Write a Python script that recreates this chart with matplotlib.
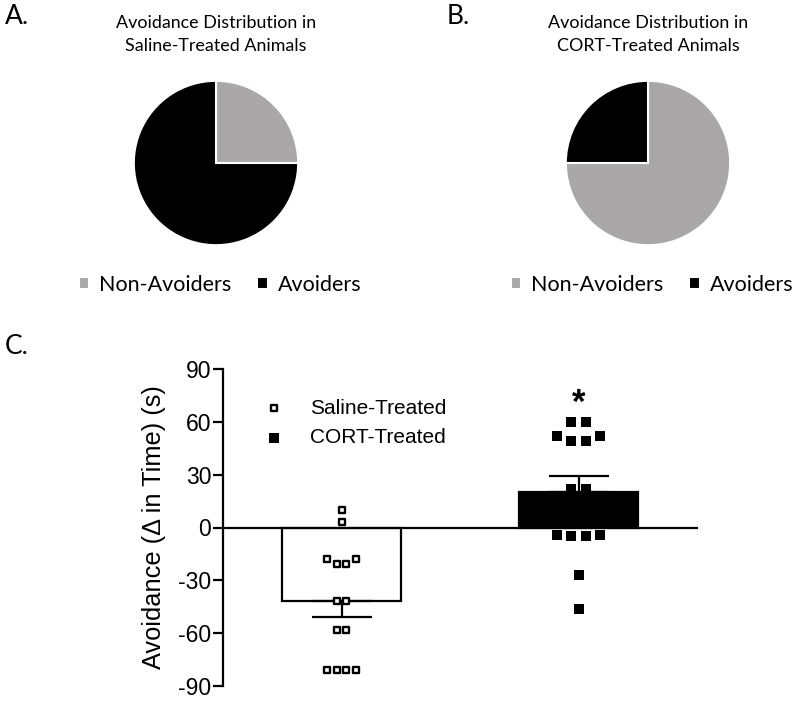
import matplotlib
matplotlib.use('Agg')
import matplotlib.pyplot as plt

plt.rcParams['font.family'] = ['Liberation Sans', 'DejaVu Sans']

# ---------------- data ----------------
pie_labels = ['Non-Avoiders', 'Avoiders']
saline_pie = [25, 75]
cort_pie = [75, 25]
pie_titles = ['Avoidance Distribution in\nSaline-Treated Animals',
              'Avoidance Distribution in\nCORT-Treated Animals']

groups = ['Saline-Treated', 'CORT-Treated']
bar_means = [-42, 20]
bar_sem = [8.6, 9.0]
saline_points = [10, 3, -18, -20.5, -20.5, -18, -41.5, -41.5, -58, -58, -81, -81, -81, -81]
cort_points = [60, 60, 52, 49, 49, 52, 22, 22, -4, -5, -5, -4, -27, -46]
yticks = [-90, -60, -30, 0, 30, 60, 90]
ylabel = 'Avoidance (\u0394 in Time) (s)'

# ---------------- style ----------------
GREY = '#a9a7a7'
pie_colors = [GREY, 'black']
W, H = 800, 703
fig = plt.figure(figsize=(8, 7.03), dpi=100)


def fx(px):
    return px / W


def fy(py):
    return 1 - py / H


CAL = ['Lato', 'DejaVu Sans']


def draw_pie(cx, cy, r, values, title, letter, letter_x, legend_cx):
    ax = fig.add_axes([fx(cx - r), fy(cy + r), 2 * r / W, 2 * r / H])
    wedges, _ = ax.pie(values, colors=pie_colors, startangle=90, counterclock=False,
                       wedgeprops=dict(edgecolor='white', linewidth=1.5))
    ax.set_xlim(-1.01, 1.01)
    ax.set_ylim(-1.01, 1.01)
    fig.text(fx(cx), fy(34.5), title, ha='center', va='center', fontsize=12.9,
             family=CAL, linespacing=1.5)
    fig.text(fx(letter_x), fy(17), letter, ha='left', va='center', fontsize=19, family=CAL)
    fig.legend(wedges, pie_labels, loc='center', bbox_to_anchor=(fx(legend_cx), fy(285)),
               ncol=2, frameon=False, prop=dict(family=CAL, size=15.5),
               handlelength=0.5, handleheight=0.5, handletextpad=0.45,
               columnspacing=1.2, borderpad=0)


draw_pie(216, 163, 83, saline_pie, pie_titles[0], 'A.', 5, 220)
draw_pie(648, 163, 83, cort_pie, pie_titles[1], 'B.', 447, 652)

fig.text(fx(5), fy(347), 'C.', ha='left', va='center', fontsize=19, family=CAL)

# ---------------- panel C ----------------
ax = fig.add_axes([fx(223), fy(686), 474 / W, 317 / H])
xpos = [1, 2]


def swarm_offsets(vals, spacing, tol=6):
    offs = []
    i = 0
    n = len(vals)
    while i < n:
        j = i
        while j + 1 < n and abs(vals[j + 1] - vals[j]) <= tol:
            j += 1
        k = j - i + 1
        offs.extend([(m - (k - 1) / 2) * spacing for m in range(k)])
        i = j + 1
    return offs


ax.bar(xpos, bar_means, width=0.5, color=['white', 'black'], edgecolor='black',
       linewidth=1.6, zorder=2)
ax.errorbar(xpos, bar_means, yerr=[[bar_sem[0], 0], [0, bar_sem[1]]], fmt='none',
            ecolor='black', elinewidth=1.6, capsize=21.6, capthick=1.6, zorder=2.5)

s_off = swarm_offsets(saline_points, 0.042)
c_off = swarm_offsets(cort_points, 0.06)
h1 = ax.scatter([xpos[0] + o for o in s_off], saline_points, marker='s', s=24,
                facecolor='white', edgecolor='black', linewidths=1.7, zorder=3, clip_on=False)
h2 = ax.scatter([xpos[1] + o for o in c_off], cort_points, marker='s', s=50,
                facecolor='black', edgecolor='black', linewidths=0, zorder=3, clip_on=False)

ax.text(xpos[1], 61, '*', ha='center', va='bottom', fontsize=25, fontweight='bold')

ax.set_xlim(0.5, 2.5)
ax.set_ylim(-90, 90)
ax.set_yticks(yticks)
ax.set_yticklabels([str(v) for v in yticks])
ax.tick_params(axis='y', labelsize=16.5, width=1.6, length=7, pad=1.5)
ax.set_xticks([])
for sp in ['top', 'right']:
    ax.spines[sp].set_visible(False)
ax.spines['left'].set_linewidth(1.6)
ax.spines['bottom'].set_position(('data', 0))
ax.spines['bottom'].set_linewidth(1.6)
ax.set_ylabel(ylabel, fontsize=18.3, labelpad=9)

ax.legend([h1, h2], groups, loc='upper left', bbox_to_anchor=((263.6 - 223) / 474, 0.906),
          frameon=False, fontsize=15, handlelength=1.0, handletextpad=1.23,
          labelspacing=0.51, borderpad=0, borderaxespad=0, scatterpoints=1)

fig.savefig('out.png', dpi=100)
